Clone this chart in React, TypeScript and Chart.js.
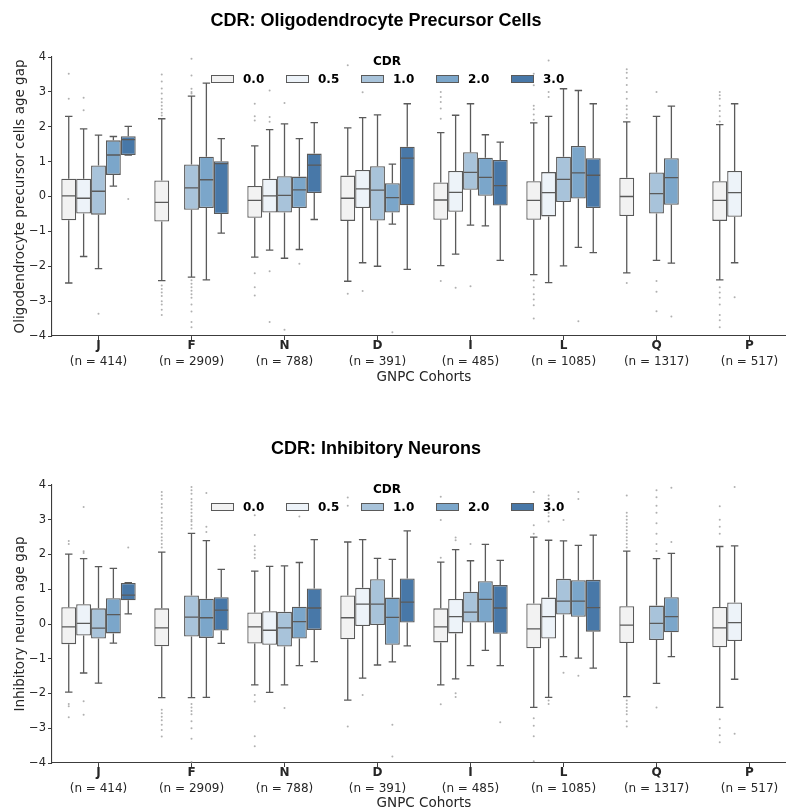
import React, { useEffect, useRef } from 'react';
import { Chart, registerables } from 'chart.js';

Chart.register(...registerables);
Chart.defaults.font.family = '"DejaVu Sans", sans-serif';

// ---------- categories / labels ----------
const COHORTS = ['J', 'F', 'N', 'D', 'I', 'L', 'Q', 'P'];
const COHORT_N = ['(n = 414)', '(n = 2909)', '(n = 788)', '(n = 391)', '(n = 485)', '(n = 1085)', '(n = 1317)', '(n = 517)'];
const CDR_LEVELS = ['0.0', '0.5', '1.0', '2.0', '3.0'];
const CDR_FILLS = ['#f2f2f2', '#edf3f9', '#a8c3da', '#7ba6ca', '#4878a8'];
const Y_MIN = -4;
const Y_MAX = 4;

type Box = [number, number, number, number, number] | null; // [whiskerLow, q1, median, q3, whiskerHigh]

// ---------- Oligodendrocyte precursor cells ----------
const OPC_CDR_00: Box[] = [
  [-2.48, -0.68, 0.02, 0.51, 2.30],
  [-2.41, -0.72, -0.17, 0.46, 2.23],
  [-1.74, -0.61, -0.11, 0.30, 1.45],
  [-2.43, -0.70, -0.05, 0.60, 1.97],
  [-1.98, -0.67, -0.10, 0.40, 1.83],
  [-2.24, -0.67, -0.11, 0.44, 2.11],
  [-2.19, -0.56, 0.00, 0.54, 2.14],
  [-2.39, -0.70, -0.11, 0.44, 2.06],
];
const OPC_CDR_05: Box[] = [
  [-1.72, -0.49, -0.05, 0.51, 1.94],
  null,
  [-1.54, -0.46, 0.02, 0.51, 1.92],
  [-1.90, -0.33, 0.22, 0.76, 2.26],
  [-1.65, -0.44, 0.12, 0.73, 2.33],
  [-2.47, -0.57, 0.11, 0.70, 2.30],
  null,
  [-1.90, -0.58, 0.11, 0.73, 2.66],
];
const OPC_CDR_10: Box[] = [
  [-2.07, -0.52, 0.15, 0.89, 1.76],
  [-2.31, -0.38, 0.25, 0.92, 2.88],
  [-1.77, -0.46, 0.03, 0.58, 2.08],
  [-2.00, -0.69, 0.18, 0.87, 2.34],
  [-0.82, 0.19, 0.69, 1.27, 2.66],
  [-1.99, -0.16, 0.49, 1.14, 3.09],
  [-1.83, -0.49, 0.08, 0.69, 2.30],
  null,
];
const OPC_CDR_20: Box[] = [
  [0.30, 0.62, 1.19, 1.61, 1.72],
  [-2.39, -0.33, 0.48, 1.14, 3.25],
  [-1.52, -0.33, 0.19, 0.57, 1.66],
  [-0.79, -0.46, -0.03, 0.38, 0.93],
  [-0.84, 0.02, 0.55, 1.11, 1.77],
  [-1.46, -0.06, 0.68, 1.45, 3.04],
  [-1.91, -0.24, 0.54, 1.10, 2.59],
  null,
];
const OPC_CDR_30: Box[] = [
  [1.19, 1.19, 1.63, 1.73, 2.01],
  [-1.05, -0.50, 0.94, 1.01, 1.66],
  [-0.66, 0.10, 0.90, 1.23, 2.12],
  [-2.09, -0.25, 1.10, 1.43, 2.66],
  [-1.83, -0.26, 0.31, 1.05, 1.56],
  [-1.61, -0.33, 0.61, 1.10, 2.66],
  null,
  null,
];
const OPC_OUT_00 = [
  [3.52, 2.80],
  [3.5, 3.3, 3.1, 2.95, 2.8, 2.7, 2.6, 2.5, 2.4, 2.32, -2.55, -2.65, -2.75, -2.85, -3.0, -3.1, -3.25, -3.4],
  [2.66, 2.3, 2.18, -2.2, -2.6, -2.84],
  [3.76, -2.79],
  [3.0, 2.85, 2.71, 2.52, 2.23, -2.42],
  [3.52, 3.19, 2.6, 2.5, 2.35, 2.2, -2.41, -2.6, -2.8, -2.95, -3.12, -3.5],
  [3.65, 3.55, 3.4, 3.2, 3.0, 2.8, 2.6, 2.5, 2.35, 2.25, -2.48],
  [3.0, 2.9, 2.8, 2.6, 2.45, 2.3, 2.15, -2.6, -2.75, -2.9, -3.1, -3.4, -3.55, -3.75],
];
const OPC_OUT_05 = [[2.83, 2.47], [], [3.04, 2.28, 2.14, -2.14, -3.6], [2.99, -2.71], [-2.62], [3.9, 3.0, 2.85], [], [-2.89]];
const OPC_OUT_10 = [
  [-3.36],
  [3.95, 3.47, 3.09, 3.0, 2.95, -2.4, -2.5, -2.6, -2.7, -2.8, -2.9, -3.1, -3.3, -3.6, -3.75],
  [2.68, -3.82],
  [],
  [-2.57],
  [],
  [3.0, -2.42, -2.73, -3.29],
  [],
];
const OPC_OUT_20 = [[], [], [-1.93], [-3.89], [], [-3.58], [-3.44], []];
const OPC_OUT_30 = [[-0.07], [], [], [], [], [], [], []];

// ---------- Inhibitory neurons ----------
const INH_CDR_00: Box[] = [
  [-1.96, -0.58, -0.08, 0.48, 2.01],
  [-2.12, -0.64, -0.11, 0.45, 2.07],
  [-1.75, -0.56, -0.08, 0.33, 1.52],
  [-2.19, -0.44, 0.18, 0.82, 2.36],
  [-1.75, -0.53, -0.08, 0.45, 1.78],
  [-2.40, -0.70, -0.14, 0.59, 2.50],
  [-2.09, -0.55, -0.03, 0.51, 2.10],
  [-2.40, -0.67, -0.11, 0.49, 2.23],
];
const INH_CDR_05: Box[] = [
  [-1.41, -0.33, 0.02, 0.57, 1.88],
  null,
  [-1.97, -0.60, -0.18, 0.37, 1.66],
  [-1.56, -0.06, 0.57, 1.04, 2.43],
  [-1.58, -0.27, 0.21, 0.72, 2.14],
  [-2.11, -0.42, 0.21, 0.76, 2.41],
  null,
  [-1.59, -0.49, 0.04, 0.62, 2.25],
];
const INH_CDR_10: Box[] = [
  [-1.70, -0.42, -0.12, 0.45, 1.65],
  [-2.12, -0.36, 0.20, 0.82, 2.61],
  [-1.75, -0.65, -0.11, 0.35, 1.67],
  [-1.18, -0.03, 0.57, 1.29, 1.89],
  [-1.20, 0.04, 0.34, 0.93, 1.82],
  [-0.94, 0.27, 0.66, 1.30, 2.39],
  [-1.71, -0.46, 0.02, 0.53, 1.88],
  null,
];
const INH_CDR_20: Box[] = [
  [-0.55, -0.27, 0.27, 0.74, 1.60],
  [-2.11, -0.40, 0.18, 0.73, 2.40],
  [-1.20, -0.42, 0.07, 0.50, 1.77],
  [-1.09, -0.60, 0.19, 0.76, 1.86],
  [-0.76, 0.04, 0.71, 1.23, 2.29],
  [-0.98, 0.21, 0.66, 1.26, 2.26],
  [-0.94, -0.24, 0.21, 0.77, 2.03],
  null,
];
const INH_CDR_30: Box[] = [
  [0.29, 0.68, 0.83, 1.18, 1.19],
  [-0.56, -0.19, 0.40, 0.77, 1.57],
  [-1.08, -0.17, 0.46, 1.02, 2.43],
  [-0.63, 0.04, 0.63, 1.31, 2.68],
  [-1.20, -0.28, 0.46, 1.12, 1.83],
  [-1.27, -0.22, 0.47, 1.27, 2.56],
  null,
  null,
];
const INH_OUT_00 = [
  [2.39, 2.30, -2.30, -2.37, -2.68],
  [3.8, 3.7, 3.6, 3.45, 3.35, 3.2, 3.05, 2.95, 2.85, 2.75, 2.6, 2.5, 2.4, 2.3, 2.2, -2.47, -2.57, -2.67, -2.77, -2.9, -3.05, -3.24],
  [3.13, 2.56, 2.24, 2.12, 2.0, 1.9, -2.04, -2.23, -3.23, -3.52],
  [3.64, 3.4, -2.95],
  [3.66, 2.99, 1.91, -2.31],
  [3.8, 2.84, 2.6, -2.71, -2.93, -3.23, -3.95],
  [3.7, 3.2, 3.1, 3.0, 2.9, 2.8, 2.7, 2.6, 2.5, 2.4, 2.3, 2.2, -2.2, -2.3, -2.4, -2.5, -2.6, -2.8, -2.95],
  [3.39, 3.0, 2.8, 2.6, -2.74, -2.99, -3.2, -3.4],
];
const INH_OUT_05 = [
  [3.37, 2.09, 2.04, -2.22, -2.61],
  [],
  [],
  [-2.04],
  [2.49, 2.41, -1.99, -2.1],
  [3.7, 3.6, 3.5, 3.4, 3.3, 3.2, 3.1, 2.95, -2.2, -2.3],
  [],
  [3.94, -3.16],
];
const INH_OUT_10 = [
  [],
  [3.94, 3.85, 3.75, 3.6, 3.5, 3.4, 3.3, 3.2, 3.1, 3.0, 2.95, 2.85, 2.75, -2.3, -2.4, -2.5, -2.6, -2.8, -3.0, -3.3, -3.97],
  [-2.42],
  [],
  [2.30],
  [2.99, -1.40],
  [3.85, 3.65, 3.4, 3.2, 2.9, 2.6, 2.3, 2.1, -2.40],
  [],
];
const INH_OUT_20 = [[], [3.77, 2.8, 2.65], [3.09], [-2.90, -3.81], [], [3.8, 3.6, -1.49], [3.92, 2.36], []];
const INH_OUT_30 = [[2.20], [], [], [], [-2.83], [], [], []];

// ---------- styling ----------
const LINE = '#5a5a5a';
const AXIS = '#3c3c3c';
const TEXT = '#262626';
const CANVAS_W = 796;

type PanelProps = {
  title: string;
  yTitle: string;
  boxes: Box[][];
  outliers: number[][][];
  height: number;
  axisH: number;
  top: number;
};

const boxPlugin = {
  id: 'boxDetails',
  afterDatasetsDraw(chart: any) {
    const ctx = chart.ctx;
    const ys = chart.scales.y;
    ctx.save();
    chart.data.datasets.forEach((ds: any, di: number) => {
      const meta = chart.getDatasetMeta(di);
      ds.stats.forEach((s: Box, j: number) => {
        const el = meta.data[j];
        if (!s || !el) return;
        const x = el.x;
        const w = el.width;
        const [lo, q1, med, q3, hi] = s;
        ctx.strokeStyle = LINE;
        ctx.lineWidth = 1.3;
        ctx.beginPath();
        // whiskers
        ctx.moveTo(x, ys.getPixelForValue(q3));
        ctx.lineTo(x, ys.getPixelForValue(hi));
        ctx.moveTo(x, ys.getPixelForValue(q1));
        ctx.lineTo(x, ys.getPixelForValue(lo));
        // caps
        ctx.moveTo(x - w / 4, ys.getPixelForValue(hi));
        ctx.lineTo(x + w / 4, ys.getPixelForValue(hi));
        ctx.moveTo(x - w / 4, ys.getPixelForValue(lo));
        ctx.lineTo(x + w / 4, ys.getPixelForValue(lo));
        // median
        ctx.moveTo(x - w / 2 + 0.6, ys.getPixelForValue(med));
        ctx.lineTo(x + w / 2 - 0.6, ys.getPixelForValue(med));
        ctx.stroke();
        // outliers
        ctx.fillStyle = 'rgba(150,150,150,0.75)';
        (ds.outliers[j] || []).forEach((v: number) => {
          ctx.beginPath();
          ctx.arc(x, ys.getPixelForValue(v), 1.0, 0, Math.PI * 2);
          ctx.fill();
        });
      });
    });
    ctx.restore();
  },
  afterDraw(chart: any) {
    const ctx = chart.ctx;
    const opts = chart.options.plugins.boxDetails;
    const xs = chart.scales.x;
    ctx.save();
    // title
    ctx.fillStyle = '#000';
    ctx.textAlign = 'center';
    ctx.textBaseline = 'middle';
    ctx.font = 'bold 18px "Liberation Sans", Arial, sans-serif';
    ctx.fillText(opts.title, 376, 21);
    // n labels
    ctx.fillStyle = TEXT;
    ctx.font = '12px "DejaVu Sans"';
    COHORT_N.forEach((t, i) => {
      ctx.fillText(t, xs.getPixelForTick(i), chart.chartArea.bottom + 25.5);
    });
    // legend
    ctx.fillStyle = '#000';
    ctx.font = 'bold 12px "DejaVu Sans"';
    ctx.fillText('CDR', 387, 62);
    CDR_LEVELS.forEach((lvl, i) => {
      const px = 211 + 75 * i;
      ctx.fillStyle = CDR_FILLS[i];
      ctx.fillRect(px, 75, 23, 8);
      ctx.strokeStyle = LINE;
      ctx.lineWidth = 1;
      ctx.strokeRect(px + 0.5, 75.5, 22, 7);
      ctx.fillStyle = '#000';
      ctx.textAlign = 'left';
      ctx.fillText(lvl, px + 32, 79.5);
    });
    ctx.restore();
  },
};

function Panel({ title, yTitle, boxes, outliers, height, axisH, top }: PanelProps) {
  const ref = useRef<HTMLCanvasElement | null>(null);
  useEffect(() => {
    if (!ref.current) return;
    const chart = new Chart(ref.current, {
      type: 'bar',
      data: {
        labels: COHORTS,
        datasets: CDR_LEVELS.map((lvl, i) => ({
          label: lvl,
          data: boxes[i].map((b) => (b ? [b[1], b[3]] : null)),
          backgroundColor: CDR_FILLS[i],
          borderColor: LINE,
          borderWidth: 1.3,
          borderSkipped: false,
          categoryPercentage: 0.8,
          barPercentage: 1.0,
          stats: boxes[i],
          outliers: outliers[i],
        })) as any,
      },
      options: {
        responsive: false,
        animation: false,
        devicePixelRatio: 1,
        layout: { padding: { top: 57, left: 0, right: 0, bottom: 0 } },
        plugins: {
          legend: { display: false },
          tooltip: { enabled: false },
          title: { display: false },
          boxDetails: { title },
        } as any,
        scales: {
          x: {
            type: 'category',
            offset: true,
            grid: { offset: false, drawOnChartArea: false, drawTicks: true, tickLength: 4, color: AXIS, lineWidth: 1 },
            border: { display: true, color: AXIS, width: 1.1 },
            ticks: {
              autoSkip: false,
              maxRotation: 0,
              padding: 0,
              color: TEXT,
              font: { size: 12, weight: 'bold', lineHeight: 1.0 },
            },
            title: {
              display: true,
              text: 'GNPC Cohorts',
              color: TEXT,
              font: { size: 13.5 },
              padding: { top: 0, bottom: 0 },
            },
            afterFit: (s: any) => {
              s.height = axisH;
            },
          },
          y: {
            type: 'linear',
            min: Y_MIN,
            max: Y_MAX,
            grid: { drawOnChartArea: false, drawTicks: true, tickLength: 4, color: AXIS, lineWidth: 1 },
            border: { display: true, color: AXIS, width: 1.1 },
            ticks: {
              stepSize: 1,
              padding: 2,
              color: TEXT,
              font: { size: 11.5 },
              callback: (v: any) => (Number(v) < 0 ? '\u2212' + Math.abs(Number(v)) : String(v)),
            },
            title: {
              display: true,
              text: yTitle,
              color: TEXT,
              font: { size: 13.5 },
              padding: { top: 12, bottom: 0 },
            },
            afterFit: (s: any) => {
              s.width = 52;
            },
          },
        } as any,
      },
      plugins: [boxPlugin as any],
    });
    return () => chart.destroy();
  }, []);
  return (
    <canvas
      ref={ref}
      width={CANVAS_W}
      height={height}
      style={{ position: 'absolute', left: 0, top, width: CANVAS_W, height }}
    />
  );
}

export default function App() {
  return (
    <div
      style={{
        position: 'fixed',
        left: 0,
        top: 0,
        width: 786,
        height: 812,
        overflow: 'hidden',
        background: '#ffffff',
      }}
    >
      <Panel
        title="CDR: Oligodendrocyte Precursor Cells"
        yTitle="Oligodendrocyte precursor cells age gap"
        boxes={[OPC_CDR_00, OPC_CDR_05, OPC_CDR_10, OPC_CDR_20, OPC_CDR_30]}
        outliers={[OPC_OUT_00, OPC_OUT_05, OPC_OUT_10, OPC_OUT_20, OPC_OUT_30]}
        height={386}
        axisH={50}
        top={0}
      />
      <Panel
        title="CDR: Inhibitory Neurons"
        yTitle="Inhibitory neuron age gap"
        boxes={[INH_CDR_00, INH_CDR_05, INH_CDR_10, INH_CDR_20, INH_CDR_30]}
        outliers={[INH_OUT_00, INH_OUT_05, INH_OUT_10, INH_OUT_20, INH_OUT_30]}
        height={384}
        axisH={49}
        top={428}
      />
    </div>
  );
}
